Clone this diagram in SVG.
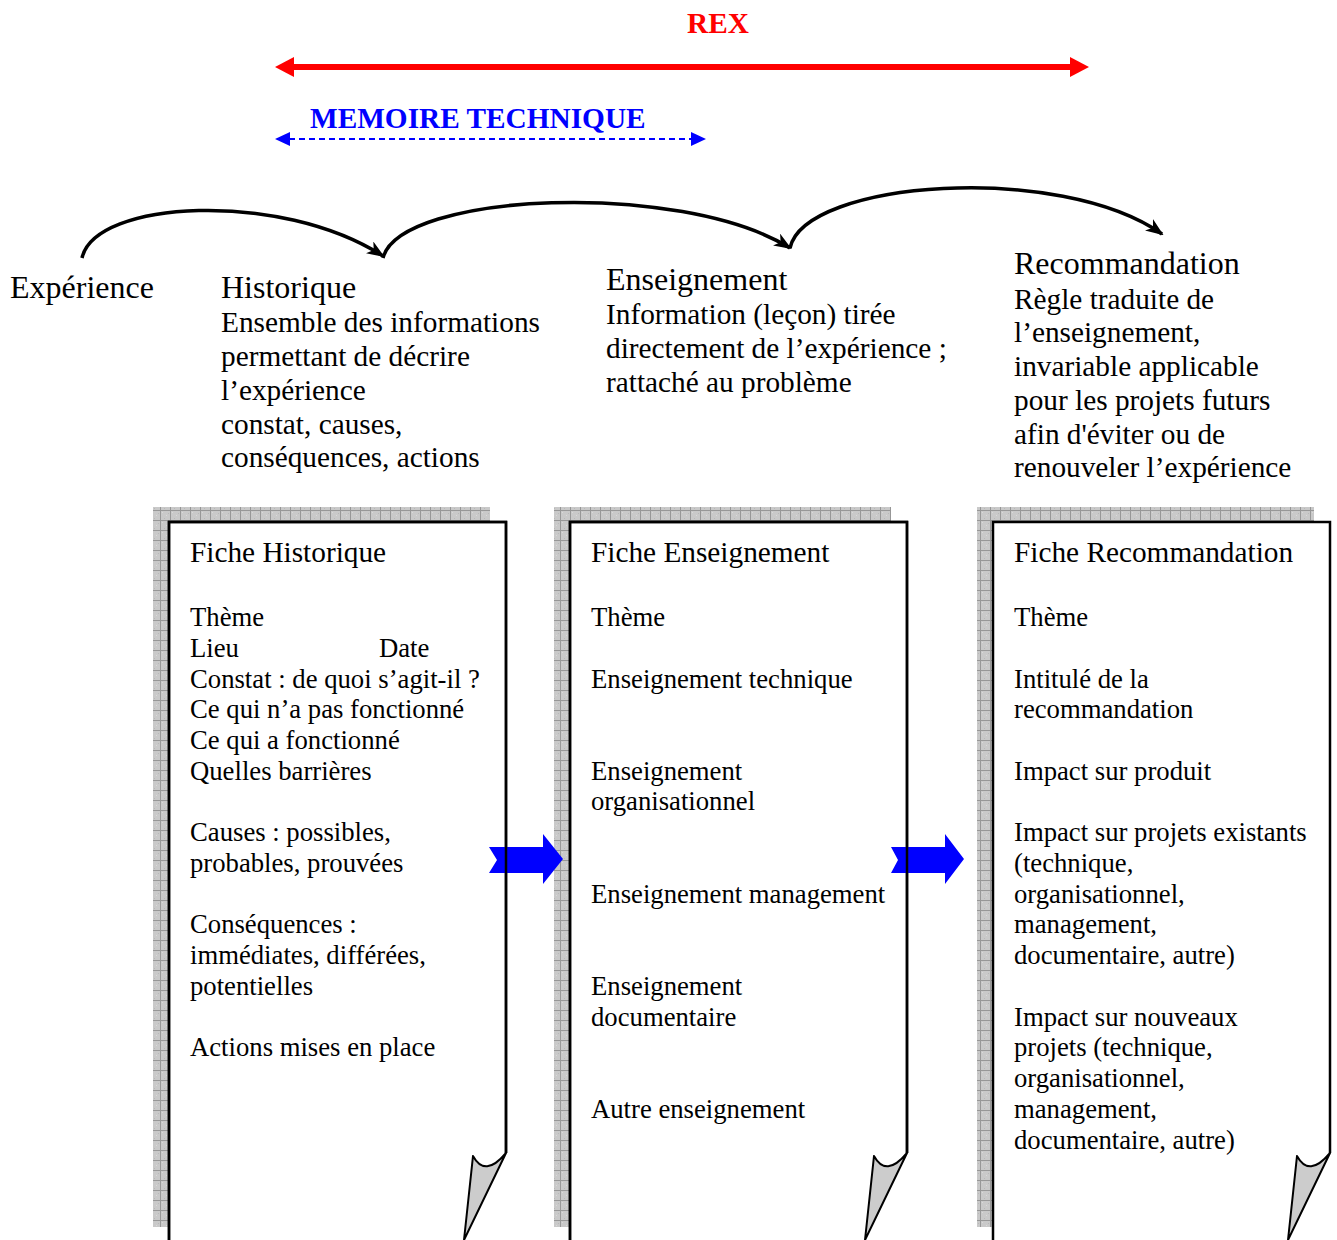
<svg xmlns="http://www.w3.org/2000/svg" xmlns:xlink="http://www.w3.org/1999/xlink" width="1337" height="1240" viewBox="0 0 1337 1240">
  <style>
    text { font-family: "Liberation Serif", "Times New Roman", serif; fill: #000; }
    .head { font-size: 32px; }
    .body { font-size: 29.3px; }
    .title { font-size: 29.3px; }
    .item { font-size: 26.7px; }
    .rex { font-size: 29.3px; font-weight: bold; fill: #ff0000; }
    .mem { font-size: 29.3px; font-weight: bold; fill: #0000ff; }
    .shadow { fill: url(#grid); }
    .sheet { fill: #ffffff; }
    .edge { fill: none; stroke: #000; stroke-width: 2.5; }
    .curl { fill: #cccccc; stroke: #000; stroke-width: 2; stroke-linejoin: round; }
    .flow { fill: none; stroke: #000; stroke-width: 3.5; marker-end: url(#barb); }
    .block { fill: #0000ff; }
  </style>
  <defs>
    <!-- grey hatched drop shadow behind each sheet -->
    <pattern id="grid" width="10" height="10" patternUnits="userSpaceOnUse">
      <rect width="10" height="10" fill="#c9c9c9"/>
      <rect x="2" y="2" width="1" height="1" fill="#dadada"/>
      <rect x="6" y="5" width="1" height="1" fill="#dadada"/>
      <rect x="4" y="8" width="1" height="1" fill="#b8b8b8"/>
      <rect x="8" y="3" width="1" height="1" fill="#b8b8b8"/>
      <rect x="0" y="0" width="10" height="1" fill="#979797"/>
      <rect x="0" y="0" width="1" height="10" fill="#979797"/>
    </pattern>
    <marker id="barb" viewBox="0 0 18 14" refX="16" refY="7" markerWidth="18" markerHeight="14" markerUnits="userSpaceOnUse" orient="auto">
      <path d="M0,0 L18,7 L0,14 L5,7 z" fill="#000"/>
    </marker>
  </defs>

  <!-- scope banners -->
  <g id="rex">
    <text class="rex" x="687" y="33">REX</text>
    <line x1="290" y1="67" x2="1074" y2="67" stroke="#ff0000" stroke-width="6"/>
    <polygon points="275,67 294,57 294,77" fill="#ff0000"/>
    <polygon points="1089,67 1070,57 1070,77" fill="#ff0000"/>
  </g>
  <g id="memoire-technique">
    <text class="mem" x="310" y="128">MEMOIRE TECHNIQUE</text>
    <line x1="289" y1="139" x2="692" y2="139" stroke="#0000ff" stroke-width="2" stroke-dasharray="6 4"/>
    <polygon points="275,139 290,132 290,146" fill="#0000ff"/>
    <polygon points="706,139 691,132 691,146" fill="#0000ff"/>
  </g>

  <!-- stage labels -->
  <g id="experience">
    <text class="head" x="10" y="298">Expérience</text>
  </g>
  <g id="historique">
    <text class="head" x="221" y="298">Historique</text>
    <text class="body" x="221" y="332">Ensemble des informations</text>
    <text class="body" x="221" y="366">permettant de décrire</text>
    <text class="body" x="221" y="400">l’expérience</text>
    <text class="body" x="221" y="434">constat, causes,</text>
    <text class="body" x="221" y="467">conséquences, actions</text>
  </g>
  <g id="enseignement">
    <text class="head" x="606" y="290">Enseignement</text>
    <text class="body" x="606" y="324">Information (leçon) tirée</text>
    <text class="body" x="606" y="358">directement de l’expérience ;</text>
    <text class="body" x="606" y="392">rattaché au problème</text>
  </g>
  <g id="recommandation">
    <text class="head" x="1014" y="274">Recommandation</text>
    <text class="body" x="1014" y="309">Règle traduite de</text>
    <text class="body" x="1014" y="342">l’enseignement,</text>
    <text class="body" x="1014" y="376">invariable applicable</text>
    <text class="body" x="1014" y="410">pour les projets futurs</text>
    <text class="body" x="1014" y="444">afin d'éviter ou de</text>
    <text class="body" x="1014" y="477">renouveler l’expérience</text>
  </g>

  <!-- sheet 1 -->
  <g id="fiche-historique">
    <rect class="shadow" x="153" y="507" width="337" height="720"/>
    <rect class="sheet" x="169" y="522" width="337" height="718"/>
    <path id="edge1" class="edge" d="M169,1240 V522 H506 V1153"/>
    <path class="curl" d="M506,1153 Q485,1178 473,1156 L464,1240 Z"/>
    <text class="title" x="190" y="562">Fiche Historique</text>
    <text class="item" x="190" y="626">Thème</text>
    <text class="item" x="190" y="657">Lieu</text>
    <text class="item" x="379" y="657">Date</text>
    <text class="item" x="190" y="688">Constat : de quoi s’agit-il ?</text>
    <text class="item" x="190" y="718">Ce qui n’a pas fonctionné</text>
    <text class="item" x="190" y="749">Ce qui a fonctionné</text>
    <text class="item" x="190" y="780">Quelles barrières</text>
    <text class="item" x="190" y="841">Causes : possibles,</text>
    <text class="item" x="190" y="872">probables, prouvées</text>
    <text class="item" x="190" y="933">Conséquences :</text>
    <text class="item" x="190" y="964">immédiates, différées,</text>
    <text class="item" x="190" y="995">potentielles</text>
    <text class="item" x="190" y="1056">Actions mises en place</text>
  </g>

  <!-- sheet 2 -->
  <g id="fiche-enseignement">
    <rect class="shadow" x="554" y="507" width="337" height="720"/>
    <rect class="sheet" x="570" y="522" width="337" height="718"/>
    <path id="edge2" class="edge" d="M570,1240 V522 H907 V1153"/>
    <path class="curl" d="M907,1153 Q886,1178 874,1156 L865,1240 Z"/>
    <text class="title" x="591" y="562">Fiche Enseignement</text>
    <text class="item" x="591" y="626">Thème</text>
    <text class="item" x="591" y="688">Enseignement technique</text>
    <text class="item" x="591" y="780">Enseignement</text>
    <text class="item" x="591" y="810">organisationnel</text>
    <text class="item" x="591" y="903">Enseignement management</text>
    <text class="item" x="591" y="995">Enseignement</text>
    <text class="item" x="591" y="1026">documentaire</text>
    <text class="item" x="591" y="1118">Autre enseignement</text>
  </g>

  <!-- sheet 3 -->
  <g id="fiche-recommandation">
    <rect class="shadow" x="977" y="507" width="337" height="720"/>
    <rect class="sheet" x="993" y="522" width="337" height="718"/>
    <path id="edge3" class="edge" d="M993,1240 V522 H1330 V1153"/>
    <path class="curl" d="M1330,1153 Q1309,1178 1297,1156 L1288,1240 Z"/>
    <text class="title" x="1014" y="562">Fiche Recommandation</text>
    <text class="item" x="1014" y="626">Thème</text>
    <text class="item" x="1014" y="688">Intitulé de la</text>
    <text class="item" x="1014" y="718">recommandation</text>
    <text class="item" x="1014" y="780">Impact sur produit</text>
    <text class="item" x="1014" y="841">Impact sur projets existants</text>
    <text class="item" x="1014" y="872">(technique,</text>
    <text class="item" x="1014" y="903">organisationnel,</text>
    <text class="item" x="1014" y="933">management,</text>
    <text class="item" x="1014" y="964">documentaire, autre)</text>
    <text class="item" x="1014" y="1026">Impact sur nouveaux</text>
    <text class="item" x="1014" y="1056">projets (technique,</text>
    <text class="item" x="1014" y="1087">organisationnel,</text>
    <text class="item" x="1014" y="1118">management,</text>
    <text class="item" x="1014" y="1149">documentaire, autre)</text>
  </g>

  <!-- connectors: stage arcs and block arrows between sheets -->
  <g id="connectors">
    <path class="flow" d="M82,258 C95,200 280,190 383,256"/>
    <path class="flow" d="M383,258 C400,192 680,180 790,248"/>
    <path class="flow" d="M790,248 C805,180 1060,162 1162,234"/>
    <polygon class="block" points="489,847 543,847 543,834 563,859 543,884 543,873 489,873 497,860"/>
    <polygon class="block" points="891,847 945,847 945,834 964,859 945,884 945,873 891,873 898,860"/>
  </g>
  <!-- sheet edges stay on top of the block arrows -->
  <use href="#edge1"/>
  <use href="#edge2"/>
</svg>
